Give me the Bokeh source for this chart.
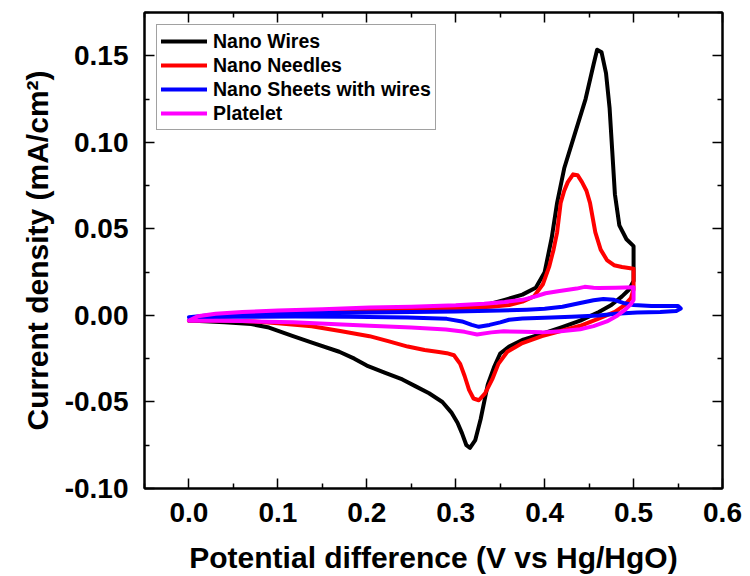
from bokeh.plotting import figure
from bokeh.models import (LinearAxis, FixedTicker, NumeralTickFormatter,
                          CustomJSTickFormatter, Range1d)
from bokeh.embed import file_html
from bokeh.resources import INLINE

# ---------------- data ----------------
wires_x = [0.000, 0.020, 0.050, 0.100, 0.150, 0.200, 0.250, 0.300, 0.330, 0.355, 0.375, 0.390,
           0.400, 0.408, 0.414, 0.422, 0.434, 0.446, 0.455, 0.459, 0.464, 0.469, 0.473, 0.476,
           0.479, 0.484, 0.492, 0.500,
           0.500, 0.495, 0.487, 0.475, 0.461, 0.440, 0.418, 0.395, 0.376, 0.360, 0.350, 0.343,
           0.336, 0.328, 0.322, 0.316, 0.312, 0.307, 0.302, 0.295, 0.285, 0.270, 0.255, 0.240,
           0.220, 0.200, 0.186, 0.169, 0.140, 0.117, 0.090, 0.070, 0.040, 0.000]
wires_y = [-0.0030, -0.0005, 0.0010, 0.0020, 0.0025, 0.0030, 0.0035, 0.0040, 0.0055, 0.0090, 0.0120, 0.0160,
           0.0250, 0.0450, 0.0650, 0.0850, 0.1050, 0.1250, 0.1450, 0.1535, 0.1520, 0.1400, 0.1200, 0.0950,
           0.0700, 0.0520, 0.0440, 0.0400,
           0.0200, 0.0150, 0.0110, 0.0060, 0.0020, -0.0030, -0.0070, -0.0110, -0.0140, -0.0180, -0.0220, -0.0300,
           -0.0400, -0.0600, -0.0720, -0.0765, -0.0750, -0.0680, -0.0620, -0.0560, -0.0500, -0.0450, -0.0410, -0.0370,
           -0.0330, -0.0290, -0.0250, -0.0210, -0.0160, -0.0120, -0.0070, -0.0050, -0.0040, -0.0030]

needles_x = [0.000, 0.020, 0.050, 0.100, 0.200, 0.300, 0.340, 0.360, 0.375, 0.388, 0.398, 0.405,
             0.410, 0.414, 0.418, 0.422, 0.426, 0.432, 0.437, 0.442, 0.447, 0.451, 0.457, 0.463,
             0.470, 0.478, 0.487, 0.500,
             0.500, 0.497, 0.490, 0.479, 0.460, 0.440, 0.418, 0.397, 0.375, 0.358, 0.348, 0.341,
             0.333, 0.326, 0.320, 0.315, 0.310, 0.305, 0.298, 0.290, 0.281, 0.265, 0.246, 0.225,
             0.203, 0.170, 0.138, 0.100, 0.074, 0.040, 0.000]
needles_y = [-0.0030, -0.0005, 0.0010, 0.0020, 0.0030, 0.0040, 0.0050, 0.0060, 0.0080, 0.0110, 0.0180, 0.0280,
             0.0380, 0.0480, 0.0650, 0.0720, 0.0770, 0.0815, 0.0810, 0.0770, 0.0720, 0.0650, 0.0480, 0.0380,
             0.0320, 0.0290, 0.0280, 0.0270,
             0.0150, 0.0100, 0.0060, 0.0020, -0.0020, -0.0060, -0.0090, -0.0120, -0.0160, -0.0210, -0.0280, -0.0370,
             -0.0450, -0.0490, -0.0480, -0.0430, -0.0350, -0.0280, -0.0230, -0.0218, -0.0212, -0.0200, -0.0180, -0.0150,
             -0.0120, -0.0090, -0.0063, -0.0045, -0.0035, -0.0030, -0.0030]

sheets_x = [0.000, 0.020, 0.050, 0.100, 0.200, 0.300, 0.350, 0.380, 0.400, 0.420, 0.440, 0.455,
            0.466, 0.478, 0.490, 0.500, 0.520, 0.540, 0.550,
            0.553, 0.548, 0.530, 0.504, 0.480, 0.461, 0.430, 0.400, 0.375, 0.360, 0.350, 0.338,
            0.326, 0.318, 0.307, 0.290, 0.246, 0.180, 0.120, 0.050, 0.000]
sheets_y = [-0.0010, 0.0000, 0.0008, 0.0012, 0.0017, 0.0022, 0.0028, 0.0033, 0.0038, 0.0050, 0.0072, 0.0088,
            0.0095, 0.0090, 0.0070, 0.0060, 0.0055, 0.0055, 0.0055,
            0.0040, 0.0025, 0.0020, 0.0017, 0.0010, 0.0000, -0.0008, -0.0013, -0.0018, -0.0025, -0.0040, -0.0055,
            -0.0066, -0.0055, -0.0035, -0.0020, -0.0012, -0.0008, -0.0006, -0.0008, -0.0010]

platelet_x = [0.000, 0.010, 0.030, 0.060, 0.100, 0.150, 0.203, 0.250, 0.300, 0.332, 0.355, 0.375,
              0.390, 0.401, 0.415, 0.436, 0.445, 0.455, 0.461, 0.480, 0.500,
              0.500, 0.497, 0.491, 0.482, 0.470, 0.455, 0.440, 0.418, 0.397, 0.375, 0.354, 0.340,
              0.324, 0.310, 0.289, 0.250, 0.203, 0.160, 0.117, 0.060, 0.000]
platelet_y = [-0.0030, -0.0005, 0.0010, 0.0020, 0.0028, 0.0035, 0.0045, 0.0050, 0.0058, 0.0068, 0.0078, 0.0090,
              0.0110, 0.0128, 0.0140, 0.0155, 0.0165, 0.0160, 0.0158, 0.0160, 0.0163,
              0.0090, 0.0065, 0.0035, 0.0000, -0.0035, -0.0062, -0.0080, -0.0092, -0.0098, -0.0095, -0.0092, -0.0098,
              -0.0110, -0.0095, -0.0082, -0.0070, -0.0060, -0.0050, -0.0040, -0.0033, -0.0030]

series_names = ["Nano Wires", "Nano Needles", "Nano Sheets with wires", "Platelet"]
series_colors = ["#000000", "#FF0000", "#0000FF", "#FF00FF"]
series_x = [wires_x, needles_x, sheets_x, platelet_x]
series_y = [wires_y, needles_y, sheets_y, platelet_y]

x_ticks = [0.0, 0.1, 0.2, 0.3, 0.4, 0.5, 0.6]
x_minor_ticks = [-0.05, 0.05, 0.15, 0.25, 0.35, 0.45, 0.55]
y_ticks = [-0.10, -0.05, 0.00, 0.05, 0.10, 0.15]
y_minor_ticks = [-0.075, -0.025, 0.025, 0.075, 0.125, 0.175]

x_title = "Potential difference (V vs Hg/HgO)"
y_title = "Current density (mA/cm\u00b2)"

FONT = "Liberation Sans"

p = figure(width=750, height=576, output_backend="svg", toolbar_location=None,
           x_range=Range1d(-0.05, 0.6), y_range=Range1d(-0.10, 0.175),
           x_axis_location="below", y_axis_location="left")
p.min_border_left = 144
p.min_border_top = 12
p.min_border_right = 28
p.min_border_bottom = 88
p.background_fill_color = "white"
p.border_fill_color = "white"
p.outline_line_color = "black"
p.outline_line_width = 2
p.xgrid.visible = False
p.ygrid.visible = False

for xs, ys, c, n in zip(series_x, series_y, series_colors, series_names):
    p.line(xs, ys, line_color=c, line_width=4, line_join="round", line_cap="round",
           legend_label=n)


def style_axis(ax, ticker, labels=True):
    ax.ticker = ticker
    ax.axis_line_color = "black"
    ax.axis_line_width = 2
    ax.major_tick_in = 10
    ax.major_tick_out = 0
    ax.minor_tick_in = 5
    ax.minor_tick_out = 0
    ax.major_tick_line_width = 1.5
    ax.minor_tick_line_width = 1.5
    ax.major_tick_line_color = "black"
    ax.minor_tick_line_color = "black"
    if labels:
        ax.major_label_text_font = FONT
        ax.major_label_text_font_style = "bold"
        ax.major_label_text_font_size = "28px"
        ax.major_label_text_color = "black"
        ax.axis_label_text_font = FONT
        ax.axis_label_text_font_style = "bold"
        ax.axis_label_text_font_size = "30px"
        ax.axis_label_text_color = "black"
    else:
        ax.formatter = CustomJSTickFormatter(code="return ''")
        ax.major_label_text_font_size = "1px"
        ax.major_label_standoff = 0


xa = p.xaxis[0]
style_axis(xa, FixedTicker(ticks=x_ticks, minor_ticks=x_minor_ticks))
xa.formatter = NumeralTickFormatter(format="0.0")
xa.axis_label = x_title
xa.major_label_standoff = 14
xa.axis_label_standoff = 16

ya = p.yaxis[0]
style_axis(ya, FixedTicker(ticks=y_ticks, minor_ticks=y_minor_ticks))
ya.formatter = NumeralTickFormatter(format="0.00")
ya.axis_label = y_title
ya.major_label_standoff = 16
ya.axis_label_standoff = 8

top_ax = LinearAxis()
style_axis(top_ax, FixedTicker(ticks=x_ticks, minor_ticks=x_minor_ticks), labels=False)
p.add_layout(top_ax, "above")
right_ax = LinearAxis()
style_axis(right_ax, FixedTicker(ticks=y_ticks, minor_ticks=y_minor_ticks), labels=False)
p.add_layout(right_ax, "right")

lg = p.legend[0]
lg.location = "top_left"
lg.margin = 12
lg.padding = 4
lg.spacing = 0
lg.glyph_width = 46
lg.glyph_height = 24
lg.label_height = 24
lg.label_standoff = 6
lg.label_text_font = FONT
lg.label_text_font_style = "bold"
lg.label_text_font_size = "19.5px"
lg.label_text_color = "black"
lg.border_line_color = "#444444"
lg.border_line_width = 1
lg.background_fill_color = "white"
lg.background_fill_alpha = 1.0

open("out.html", "w").write(file_html(p, INLINE))
